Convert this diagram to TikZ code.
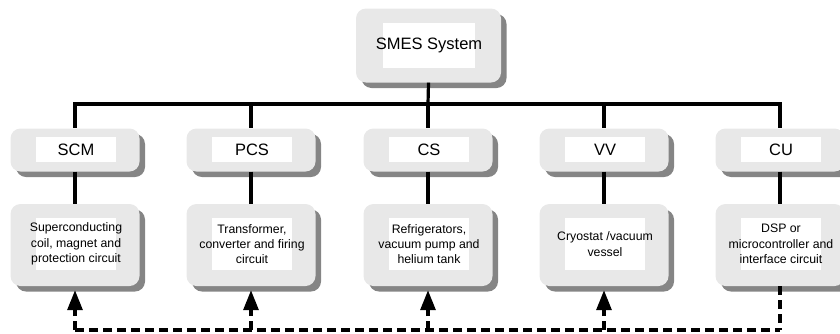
\documentclass[tikz,border=0pt]{standalone}
\usepackage{fontspec}
\setmainfont{Liberation Sans}
\usetikzlibrary{shadows,arrows.meta}
\definecolor{boxgray}{HTML}{E8E8E8}
\definecolor{shadowgray}{HTML}{858585}
\tikzset{
 outerbox/.style={draw=none, fill=boxgray, rounded corners=10pt, inner sep=0pt,
   drop shadow={shadow xshift=5.5pt, shadow yshift=-5.5pt, fill=shadowgray, opacity=1}},
 rowtwo/.style={outerbox, minimum width=129pt, minimum height=43pt},
 rowthree/.style={outerbox, minimum width=129pt, minimum height=82pt},
 whitebox/.style={fill=white, draw=none, inner sep=0pt},
 headwhite/.style={whitebox, minimum width=80pt, minimum height=25pt},
 bodywhite/.style={whitebox, minimum width=80pt, minimum height=52pt},
 headtext/.style={inner sep=0pt, font=\fontsize{16.5}{19}\selectfont},
 bodytext/.style={inner sep=0pt, align=center, font=\fontsize{12.3}{15.3}\selectfont},
 link/.style={line width=3.2pt},
 dlink/.style={line width=3.2pt, dash pattern=on 9pt off 5pt},
 uparrow/.style={dlink, -{Triangle[length=20pt,width=15pt]}},
}
\begin{document}
\begin{tikzpicture}[x=1pt,y=-1pt]
\useasboundingbox (0,0) rectangle (840,333);
% top
\node[outerbox, minimum width=145pt, minimum height=74pt] (top) at (428.5,45.5) {};
\node[whitebox, minimum width=92pt, minimum height=45pt] (topw) at (429,45.5) {};
\node[headtext] (topt) at (429,45) {SMES System};
% row two
\foreach \n/\x/\t in {scm/75/SCM, pcs/251/PCS, cs/428/CS, vv/604/VV, cu/780/CU}{
  \node[rowtwo] (\n) at (\x,150) {};
  \node[headwhite] (\n w) at (\x+1,149.5) {};
  \node[headtext] (\n t) at (\x+1,149.5) {\t};
}
% row three
\foreach \n/\x/\t in {scm/75/{Superconducting\\coil, magnet and\\protection circuit},
                      pcs/251/{Transformer,\\converter and firing\\circuit},
                      cs/428/{Refrigerators,\\vacuum pump and\\helium tank},
                      vv/604/{Cryostat /vacuum\\vessel},
                      cu/780/{DSP or\\microcontroller and\\interface circuit}}{
  \node[rowthree] (\n 3) at (\x,245) {};
  \node[bodywhite] (\n 3w) at (\x+1,244) {};
  \node[bodytext] (\n 3t) at (\x+1,244) {\t};
}
% solid connectors
\coordinate (bus) at (428,104);
\coordinate (dashy) at (428,330);
\draw[link] (top.south) -- (bus);
\draw[link] ([xshift=-1.6pt]scm.north |- bus) -- ([xshift=1.6pt]cu.north |- bus);
\foreach \n in {scm,pcs,cs,vv,cu}{
  \draw[link] (\n.north |- bus) -- (\n.north);
  \draw[link] (\n.south) -- (\n 3.north);
}
% dashed feedback
\draw[dlink] (scm3.south |- dashy) -- (cu3.south |- dashy);
\draw[dlink] (cu3.south) -- (cu3.south |- dashy);
\foreach \n in {scm,pcs,cs,vv}{
  \draw[uparrow] (\n 3.south |- dashy) -- ([yshift=-4pt]\n 3.south);
}
\end{tikzpicture}
\end{document}
